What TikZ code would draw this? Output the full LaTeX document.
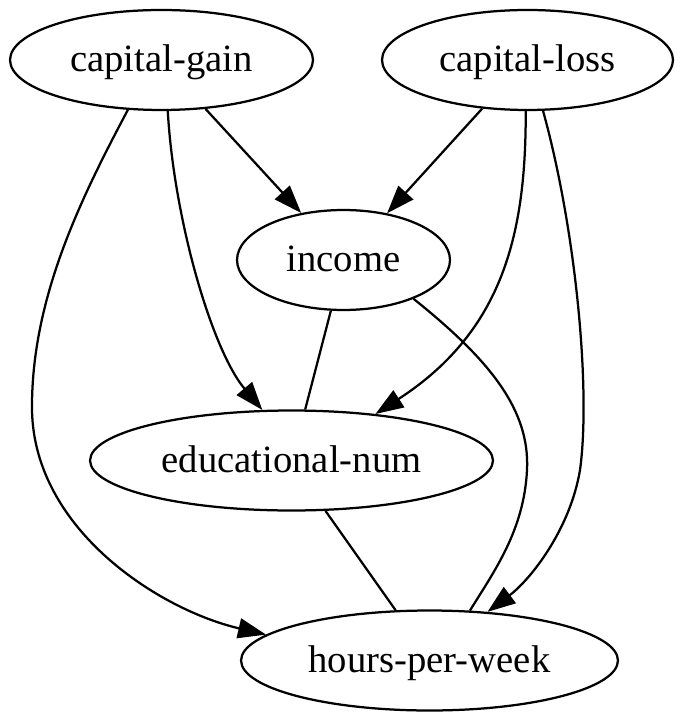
\documentclass[tikz,border=0pt]{standalone}
\usepackage{fontspec}
\setmainfont{Liberation Serif}
\usetikzlibrary{arrows.meta,shapes.geometric}

\begin{document}
\begin{tikzpicture}[x=0.02cm, y=-0.02cm,
		var/.style={draw, ellipse, line width=0.45mm, inner sep=0pt, minimum height=2cm, text height=16pt, text depth=2.4pt, font=\fontsize{22}{26}\selectfont},
		link/.style={line width=0.45mm},
		cause/.style={link, -{Triangle[length=5.6mm, width=4mm]}}]
			%%%%% START %%%%%
			\useasboundingbox (0, 0) rectangle (683, 722);
			
			\node[var, minimum width=6.06cm] (gain) at (161.5, 60) {capital-gain};
			\node[var, minimum width=5.82cm] (loss) at (527.5, 60) {capital-loss};
			\node[var, minimum width=4.26cm] (income) at (343.5, 260) {income};
			\node[var, minimum width=8.06cm] (edu) at (291.5, 460.5) {educational-num};
			\node[var, minimum width=7.54cm] (hours) at (429.5, 660.5) {hours-per-week};
			
			\draw[cause] (gain.-48) -- (income.132);
			\draw[cause] (loss.-133) -- (income.47);
			\draw[cause] (gain.-83) .. controls (174, 220) and (212, 350) .. (edu.120);
			\draw[cause] (loss.-92) .. controls (526, 230) and (505, 330) .. (edu.29);
			\draw[cause] (gain.-124) .. controls (80, 200) and (31, 300) .. (32, 410) .. controls (34, 530) and (160, 610) .. (hours.171);
			\draw[cause] (loss.-73) .. controls (576, 230) and (591, 390) .. (580, 470) .. controls (570, 530) and (530, 580) .. (hours.40);
			
			\draw[link] (income.-104) -- (edu.75);
			\draw[link] (income.-29) .. controls (490, 360) and (530, 410) .. (527, 470) .. controls (524, 530) and (495, 570) .. (hours.51);
			\draw[link] (edu.-56) -- (hours.124);
			
			%%%%% END %%%%%
		\end{tikzpicture}
\end{document}
